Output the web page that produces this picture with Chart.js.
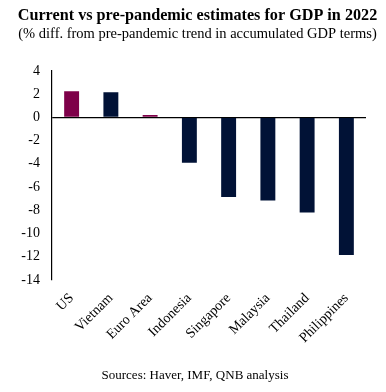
<!DOCTYPE html>
<html>
<head>
<meta charset="utf-8">
<script src="https://cdn.jsdelivr.net/npm/chart.js@4"></script>
<style>
  html, body { margin: 0; padding: 0; background: #fff; }
  #wrap { position: relative; width: 386px; height: 392px; }
  #src { position: absolute; left: 0; width: 390px; top: 367px; text-align: center;
         font: 13px "Liberation Serif", "Times New Roman", serif; color: #000; }
</style>
</head>
<body>
<div id="wrap">
  <canvas id="c" width="386" height="392"></canvas>
  <div id="src">Sources: Haver, IMF, QNB analysis</div>
</div>
<script>
const categories = ["US", "Vietnam", "Euro Area", "Indonesia", "Singapore", "Malaysia", "Thailand", "Philippines"];
const values = [2.25, 2.15, 0.2, -3.9, -6.85, -7.15, -8.2, -11.85];
const barColors = ["#7e0049", "#011236", "#7e0049", "#011236", "#011236", "#011236", "#011236", "#011236"];
const yTicks = [4, 2, 0, -2, -4, -6, -8, -10, -12, -14];
const titleText = "Current vs pre-pandemic estimates for GDP in 2022";
const subtitleText = "(% diff. from pre-pandemic trend in accumulated GDP terms)";

const serif = '"Liberation Serif", "Times New Roman", serif';

new Chart(document.getElementById('c'), {
  type: 'bar',
  data: {
    labels: categories,
    datasets: [{
      data: values,
      backgroundColor: barColors,
      borderWidth: 0,
      barPercentage: 0.38,
      categoryPercentage: 1.0,
      yAxisID: 'y'
    }]
  },
  options: {
    responsive: false,
    animation: false,
    layout: { padding: { left: 9, right: 0, top: 0, bottom: 40 } },
    plugins: {
      legend: { display: false },
      tooltip: { enabled: false },
      title: {
        display: true,
        text: titleText,
        color: '#000',
        align: 'center',
        font: { family: serif, size: 16.2, weight: 'bold' },
        padding: { top: 6, bottom: 0 }
      },
      subtitle: {
        display: true,
        text: subtitleText,
        color: '#000',
        font: { family: serif, size: 14.5 },
        padding: { top: 0, bottom: 28 }
      }
    },
    scales: {
      x: {
        grid: { display: false },
        border: { display: false },
        ticks: {
          color: '#000',
          font: { family: serif, size: 14 },
          minRotation: 45,
          maxRotation: 45,
          padding: 2
        },
        afterFit: (s) => { s.height = 72; }
      },
      y: {
        position: 'left',
        min: Math.min(...yTicks),
        max: Math.max(...yTicks),
        afterBuildTicks: (s) => { s.ticks = yTicks.map(v => ({ value: v })); },
        grid: {
          drawTicks: false,
          color: (ctx) => (ctx.tick && ctx.tick.value === 0) ? '#000' : 'rgba(0,0,0,0)',
          lineWidth: 1.2
        },
        border: { display: true, color: '#000', width: 1.2 },
        ticks: {
          color: '#000',
          font: { family: serif, size: 14 },
          padding: 12
        },
        afterFit: (s) => { s.width = 43; }
      },
      yRight: {
        type: 'linear',
        position: 'right',
        display: true,
        grid: { display: false },
        border: { display: false },
        ticks: { display: false },
        afterFit: (s) => { s.width = 20; }
      }
    }
  }
});
</script>
</body>
</html>
